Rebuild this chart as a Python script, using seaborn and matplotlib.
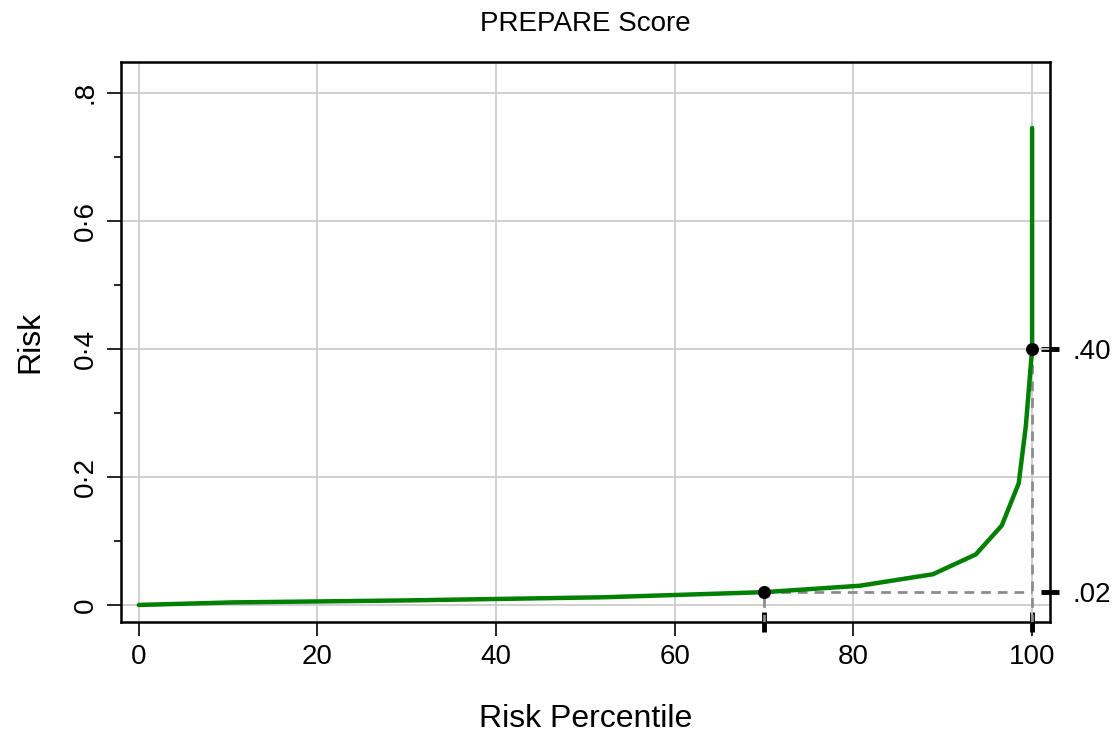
import matplotlib
matplotlib.use("Agg")
import matplotlib.pyplot as plt
import seaborn as sns

# curve values
percentile = [0, 10.5, 29.5, 52, 70, 80.7, 88.9, 93.7, 96.6, 98.5, 99.3, 100, 100]
risk = [0, 0.004, 0.007, 0.012, 0.02, 0.03, 0.048, 0.079, 0.124, 0.19, 0.28, 0.40, 0.745]

# highlighted points
mark_x = [70, 100]
mark_y = [0.02, 0.40]
mark_labels = [".02", ".40"]

x_ticks = [0, 20, 40, 60, 80, 100]
y_ticks = [0, 0.2, 0.4, 0.6, 0.8]
y_tick_labels = ["0", "0\u00b72", "0\u00b74", "0\u00b76", ".8"]
y_minor = [0.1, 0.3, 0.5, 0.7]

sns.set_style("ticks")
plt.rcParams["font.family"] = ["Liberation Sans", "DejaVu Sans"]
plt.rcParams["text.color"] = "black"
plt.rcParams["axes.labelcolor"] = "black"
plt.rcParams["xtick.color"] = "black"
plt.rcParams["ytick.color"] = "black"

fig = plt.figure(figsize=(11.17, 7.34), dpi=100)
ax = fig.add_axes([0.1083, 0.1526, 0.8317, 0.7629])

sns.lineplot(x=percentile, y=risk, estimator=None, sort=False,
             color="#008000", linewidth=3.2, ax=ax, zorder=4)

# reference lines
grey = "#8c8c8c"
dash = (0, (3.5, 2.5))
ax.plot([mark_x[0], mark_x[1]], [mark_y[0], mark_y[0]], color=grey, ls=dash, lw=2, zorder=3)
ax.plot([mark_x[1], mark_x[1]], [-0.03, mark_y[1]], color=grey, ls=dash, lw=2, zorder=3)
ax.plot([mark_x[0], mark_x[0]], [-0.03, mark_y[0]], color=grey, ls=dash, lw=2, zorder=3)

sns.scatterplot(x=mark_x, y=mark_y, color="black", s=75, edgecolor="black", ax=ax, zorder=5)

ax.set_xlim(-2.0, 102.0)
ax.set_ylim(-0.0266, 0.848)

ax.set_xticks(x_ticks)
ax.set_yticks(y_ticks)
ax.set_yticklabels(y_tick_labels, rotation=90, va="center")
ax.set_yticks(y_minor, minor=True)
ax.tick_params(axis="both", which="major", labelsize=20, length=10, width=1.2, color="black")
ax.tick_params(axis="y", which="minor", length=5, width=1.2)
ax.tick_params(axis="x", pad=6)
ax.tick_params(axis="y", pad=6)

ax.grid(True, which="major", color="#cccccc", linewidth=1.3)
ax.set_axisbelow(True)
for sp in ax.spines.values():
    sp.set_linewidth(1.8)
    sp.set_color("black")

# highlighted ticks on bottom and right
sec_x = ax.secondary_xaxis("bottom")
sec_x.set_xticks(mark_x)
sec_x.set_xticklabels(["", ""])
sec_x.tick_params(direction="inout", length=14, width=3.5, color="black")
sec_x.spines["bottom"].set_visible(False)

sec_y = ax.secondary_yaxis("right")
sec_y.set_yticks(mark_y)
sec_y.set_yticklabels(mark_labels)
sec_y.tick_params(direction="inout", length=13, width=3.5, color="black", labelsize=20, pad=10)
sec_y.spines["right"].set_visible(False)

ax.set_title("PREPARE Score", fontsize=20, pad=22)
ax.set_xlabel("Risk Percentile", fontsize=23, labelpad=24)
ax.set_ylabel("Risk", fontsize=23, labelpad=20)

fig.savefig("out.png", dpi=100)
